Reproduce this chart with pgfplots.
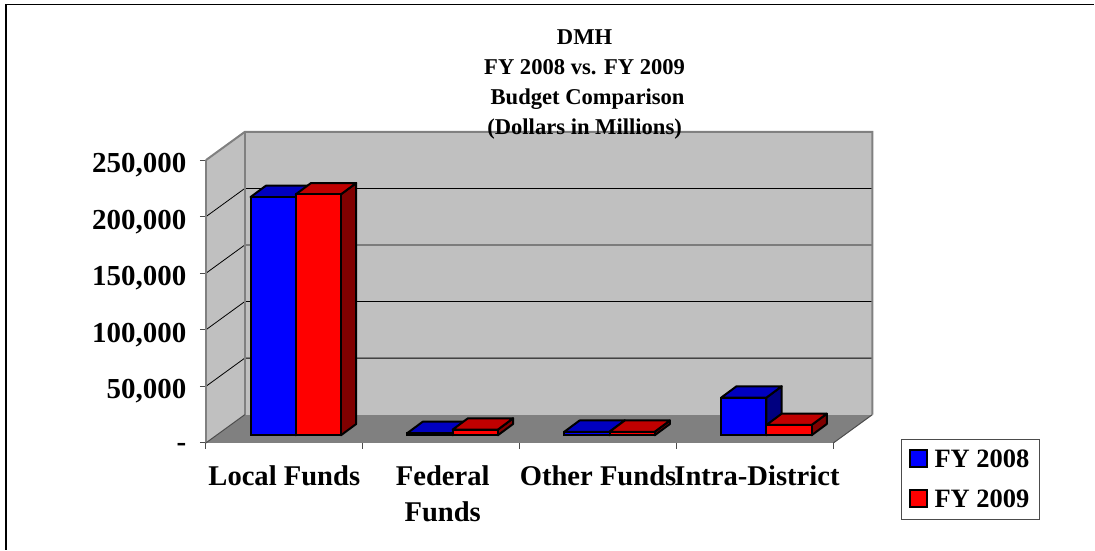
\documentclass[border=0pt]{standalone}
\usepackage{pgfplots}
\pgfplotsset{compat=1.18}
\usepackage{fontspec}
\setmainfont{Liberation Serif}
\definecolor{wall}{HTML}{C0C0C0}
\definecolor{floorc}{HTML}{808080}
\definecolor{bluetop}{HTML}{0000C0}
\definecolor{blueside}{HTML}{000080}
\definecolor{redtop}{HTML}{C00000}
\definecolor{redside}{HTML}{800000}
% depth of the bars (data units), base height of the bars
\def\dX{0.0975}\def\dY{10000}\def\bY{6800}
% x-left, x-right, value, top colour, side colour
\newcommand\barfaces[5]{%
  \edef\xa{\fpeval{#1}}\edef\xb{\fpeval{#2}}%
  \edef\xc{\fpeval{#1+\dX}}\edef\xd{\fpeval{#2+\dX}}%
  \edef\ya{\fpeval{#3+\bY}}\edef\yb{\fpeval{#3+\bY+\dY}}\edef\yc{\fpeval{\bY+\dY}}%
  \addplot[forget plot,draw=black,line width=2pt,line join=round,fill=#5] coordinates {(\xb,\bY) (\xb,\ya) (\xd,\yb) (\xd,\yc)} --cycle;
  \addplot[forget plot,draw=black,line width=2pt,line join=round,fill=#4] coordinates {(\xa,\ya) (\xb,\ya) (\xd,\yb) (\xc,\yb)} --cycle;
}
\begin{document}
\begin{tikzpicture}[x=1pt,y=1pt]
\path (0,0) rectangle (1095,550);
\draw[black,line width=1.6pt] (6,0) -- (6,545.5) -- (1095,545.5);
\begin{axis}[
  at={(206pt,106.7pt)},anchor=origin,
  scale only axis,width=628pt,height=283pt,
  xmin=0,xmax=4,ymin=0,ymax=250000,
  clip=false,
  scaled y ticks=false,
  axis x line*=bottom,axis y line*=left,
  axis line style={draw=black!70,line width=1pt,-},
  xtick={0,1,2,3,4},
  xticklabels={},
  extra x ticks={0.5,1.51,2.5,3.513},
  extra x tick labels={Local Funds,Federal\\Funds,Other Funds,Intra-District},
  extra x tick style={tick style={draw=none},
    xticklabel style={align=center,font=\fontsize{28.6}{36}\selectfont\bfseries,yshift=-13pt}},
  major tick length=6pt,
  tick align=outside,
  ytick={0,50000,100000,150000,200000,250000},
  yticklabels={{\raisebox{-4pt}{-}},{50,000},{100,000},{150,000},{200,000},{250,000}},
  yticklabel style={font=\fontsize{29}{30}\selectfont\bfseries,xshift=-10pt,yshift=-5pt,anchor=east},
  tick style={draw=black!70,line width=1pt},
  legend style={at={(axis description cs:1.1072,0.0131)},anchor=north west,
    draw=black!70,line width=0.8pt,font=\fontsize{26.5}{28}\selectfont\bfseries,
    inner xsep=7.5pt,inner ysep=8.5pt,row sep=17pt,
    legend cell align=left},
  legend image code/.code={\draw[draw=black,line width=2pt,fill=#1] (3pt,-7.5pt) rectangle (20pt,9.5pt);},
]
% floor
\addplot[forget plot,draw=none,fill=floorc] coordinates {(0,0) (4,0) (4.248,25000) (0.248,25000)} --cycle;
% side wall
\addplot[forget plot,draw=none,fill=wall] coordinates {(0,0) (0.248,25000) (0.248,275000) (0,250000)} --cycle;
% back wall
\addplot[forget plot,draw=none,fill=wall] coordinates {(0.248,25000) (4.248,25000) (4.248,275000) (0.248,275000)} --cycle;
% gridlines
\addplot[forget plot,black,line width=0.8pt] coordinates {(0,50000) (0.248,75000) (4.248,75000)};
\addplot[forget plot,black,line width=0.8pt] coordinates {(0,100000) (0.248,125000) (4.248,125000)};
\addplot[forget plot,black,line width=0.8pt] coordinates {(0,150000) (0.248,175000) (4.248,175000)};
\addplot[forget plot,black,line width=0.8pt] coordinates {(0,200000) (0.248,225000) (4.248,225000)};
% wall frame
\addplot[forget plot,floorc,line width=2pt] coordinates {(0,250000) (0.248,275000) (4.248,275000) (4.248,25000)};
\addplot[forget plot,floorc,line width=2pt] coordinates {(0.248,25000) (0.248,275000)};
\addplot[forget plot,floorc,line width=2pt] coordinates {(0,0) (0,250000)};
\addplot[forget plot,black!70,line width=1pt] coordinates {(4,0) (4.248,25000)};
\addplot[forget plot,black!70,line width=1pt] coordinates {(0,0) (0.248,25000)};
% FY 2008
\barfaces{0.285}{0.573}{210600}{bluetop}{blueside}
\barfaces{1.285}{1.573}{2000}{bluetop}{blueside}
\barfaces{2.285}{2.573}{3100}{bluetop}{blueside}
\barfaces{3.285}{3.573}{33300}{bluetop}{blueside}
\addplot[forget plot,ybar,bar width=45.2pt,bar shift=0pt,draw=black,line width=2pt,fill=blue,yshift=7.7pt]
  coordinates {(0.429,210600) (1.429,2000) (2.429,3100) (3.429,33300)};
% FY 2009
\barfaces{0.573}{0.861}{213000}{redtop}{redside}
\barfaces{1.573}{1.861}{5000}{redtop}{redside}
\barfaces{2.573}{2.861}{3100}{redtop}{redside}
\barfaces{3.573}{3.861}{9100}{redtop}{redside}
\addplot[forget plot,ybar,bar width=45.2pt,bar shift=0pt,draw=black,line width=2pt,fill=red,yshift=7.7pt]
  coordinates {(0.717,213000) (1.717,5000) (2.717,3100) (3.717,9100)};
\addlegendimage{blue}\addlegendentry{\hspace*{5pt}FY 2008}
\addlegendimage{red}\addlegendentry{\hspace*{5pt}FY 2009}
\end{axis}
\node[font=\fontsize{22.6}{29.8}\selectfont\bfseries,align=center,anchor=center] at (585,465.5) {DMH\\FY 2008 vs. FY 2009\\\hspace*{6pt}Budget Comparison\\(Dollars in Millions)};
\end{tikzpicture}
\end{document}
